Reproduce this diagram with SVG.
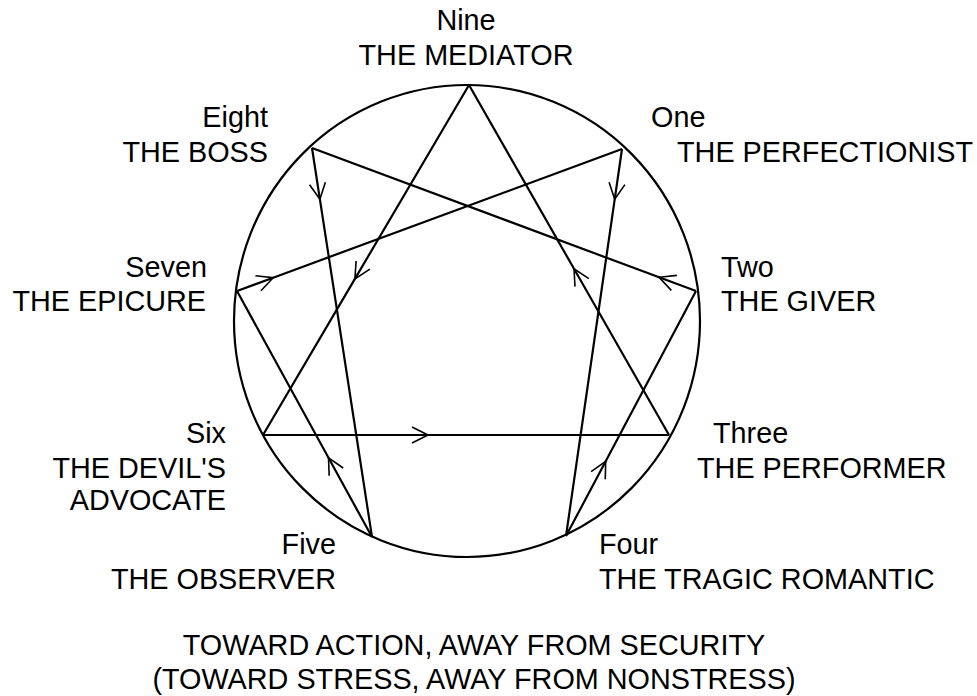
<svg xmlns="http://www.w3.org/2000/svg" width="977" height="696" viewBox="0 0 977 696">
<defs>
<style>
text{font-family:"Liberation Sans",Arial,sans-serif;font-size:28.8px;fill:#000}
.l{text-anchor:end}.r{text-anchor:start}.c{text-anchor:middle}
.ln{fill:none;stroke:#000;stroke-width:2.2;marker-mid:url(#arr)}
</style>
<marker id="arr" markerUnits="userSpaceOnUse" markerWidth="40" markerHeight="40" refX="0" refY="0" orient="auto" overflow="visible">
<path d="M-16,-8 L0,0 L-16,8" fill="none" stroke="#000" stroke-width="1.6"/>
</marker>
</defs>
<rect width="977" height="696" fill="#fff"/>
<ellipse id="circle" cx="467" cy="321" rx="233" ry="236" fill="none" stroke="#000" stroke-width="2.2"/>
<g id="connectors">
<polyline class="ln" points="312,148 319.9,199.3 372,537"/>
<polyline class="ln" points="622,149 614.7,199.3 566,536"/>
<polyline class="ln" points="469,85 354.9,278.9 263,435"/>
<polyline class="ln" points="263,435 428,435 669,435"/>
<polyline class="ln" points="669,435 574,268.75 469,85"/>
<polyline class="ln" points="372,537 328.5,457.8 237,291"/>
<polyline class="ln" points="237,291 273.2,277.7 622,149"/>
<polyline class="ln" points="566,536 605.7,461.3 696,291"/>
<polyline class="ln" points="696,291 659.1,277.3 312,148"/>
</g>
<g id="n9"><text class="c" x="466" y="30">Nine</text><text class="c" x="466" y="65">THE MEDIATOR</text></g>
<g id="n8"><text class="l" x="268" y="127">Eight</text><text class="l" x="268" y="162">THE BOSS</text></g>
<g id="n1"><text class="r" x="651" y="127">One</text><text class="r" x="677" y="162">THE PERFECTIONIST</text></g>
<g id="n7"><text class="l" x="207" y="277">Seven</text><text class="l" x="206" y="311">THE EPICURE</text></g>
<g id="n2"><text class="r" x="721" y="277">Two</text><text class="r" x="721" y="311">THE GIVER</text></g>
<g id="n6"><text class="l" x="226" y="443">Six</text><text class="l" x="226" y="478">THE DEVIL'S</text><text class="l" x="226" y="510">ADVOCATE</text></g>
<g id="n3"><text class="r" x="713" y="443">Three</text><text class="r" x="697" y="478">THE PERFORMER</text></g>
<g id="n5"><text class="l" x="336" y="554">Five</text><text class="l" x="336" y="589">THE OBSERVER</text></g>
<g id="n4"><text class="r" x="599" y="554">Four</text><text class="r" x="599" y="589">THE TRAGIC ROMANTIC</text></g>
<g id="caption"><text class="c" x="474" y="655">TOWARD ACTION, AWAY FROM SECURITY</text><text class="c" x="474" y="689">(TOWARD STRESS, AWAY FROM NONSTRESS)</text></g>
</svg>
